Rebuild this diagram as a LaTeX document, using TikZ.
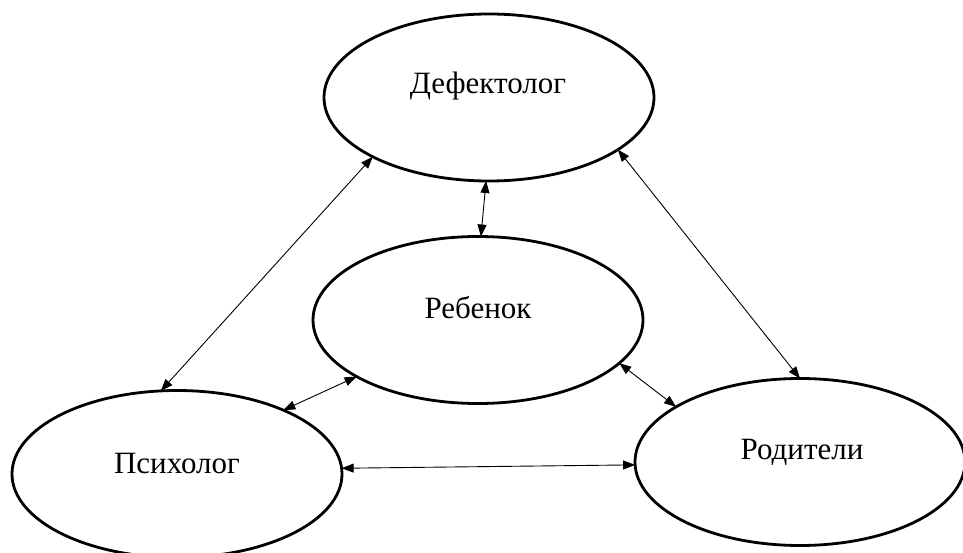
\documentclass[tikz,border=0pt]{standalone}
\usepackage{fontspec}
\setmainfont{Liberation Serif}
\usetikzlibrary{shapes.geometric,arrows.meta}
\begin{document}
\begin{tikzpicture}[x=1pt,y=-1pt,
  oval/.style={draw,line width=2.8pt,ellipse,minimum width=330pt,minimum height=167pt,inner sep=0pt,outer sep=0pt},
  lbl/.style={font=\fontsize{31}{36}\selectfont,inner sep=0pt},
  link/.style={line width=0.9pt,{Triangle[length=12pt,width=9pt]}-{Triangle[length=12pt,width=9pt]}}]
\useasboundingbox (0,0) rectangle (963,553);
\node[oval] (def) at (489,97.5) {};
\node[oval] (reb) at (478,320) {};
\node[oval] (psy) at (177,474) {};
\node[oval] (rod) at (800,462) {};
\node[lbl] (tdef) at (488,86) {Дефектолог};
\node[lbl] (treb) at (478,308) {Ребенок};
\node[lbl] (tpsy) at (177,463) {Психолог};
\node[lbl] (trod) at (802,452) {Родители};
\draw[link] (def.207) -- (psy.101.4);
\draw[link] (def.-22.8) -- (rod.90);
\draw[link] (def.268.7) -- (reb.88.7);
\draw[link] (reb.205) -- (psy.31);
\draw[link] (reb.-17.6) -- (rod.156);
\draw[link] (psy.2.4) -- (rod.181.8);
\end{tikzpicture}
\end{document}
